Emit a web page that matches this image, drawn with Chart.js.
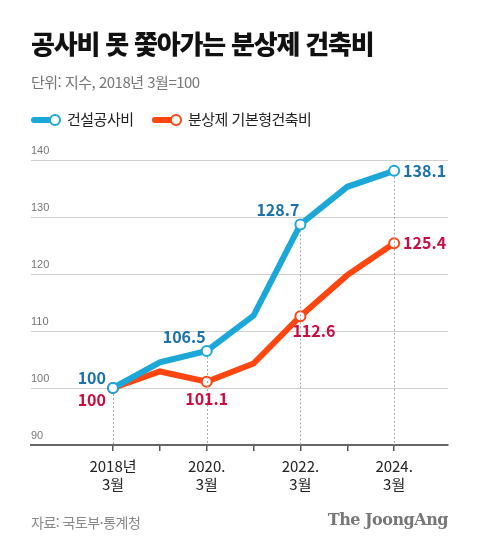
<!DOCTYPE html>
<html lang="ko">
<head>
<meta charset="utf-8">
<script src="https://cdn.jsdelivr.net/npm/chart.js@4"></script>
<style>
  html, body { margin: 0; padding: 0; background: #fff; }
  body { width: 480px; height: 553px; position: relative; overflow: hidden;
         font-family: "Noto Sans CJK KR", "Noto Sans", sans-serif; }
  #wrap { position: absolute; left: 0; top: 0; width: 480px; height: 553px; }
  .title { position: absolute; left: 31px; top: 24px; font-size: 26px; font-weight: 900;
           color: #111; letter-spacing: -1.2px; }
  .sub { position: absolute; left: 31px; top: 71px; font-size: 15px; color: #777; letter-spacing: -0.5px; }
  .legend { position: absolute; top: 108px; font-size: 15px; color: #222; letter-spacing: -0.5px; }
  .legend .mk { display: inline-block; position: relative; width: 30px; height: 12px; vertical-align: -1px; margin-right: 6px; }
  .legend .mk i { position: absolute; left: 0; top: 3px; width: 24px; height: 6px; border-radius: 3px; }
  .legend .mk b { position: absolute; right: 0; top: 0; width: 8px; height: 8px; border-radius: 50%;
                  border: 2px solid; background: #fff; }
  .src { position: absolute; left: 31px; top: 512px; font-size: 14px; color: #888; letter-spacing: -0.5px; }
  .logo { position: absolute; right: 32px; top: 510px; font-family: "DejaVu Serif", "Liberation Serif", serif;
          font-weight: 700; font-size: 16px; color: #777; letter-spacing: -0.5px; }
</style>
</head>
<body>
<div id="wrap"><canvas id="myChart" width="480" height="553"></canvas></div>
<div class="title">공사비 못 쫓아가는 분상제 건축비</div>
<div class="sub">단위: 지수, 2018년 3월=100</div>
<div class="legend" style="left:31px"><span class="mk"><i style="background:#1ba8d9"></i><b style="border-color:#1ba8d9"></b></span>건설공사비</div>
<div class="legend" style="left:152px"><span class="mk"><i style="background:#ff4510"></i><b style="border-color:#ff4510"></b></span>분상제 기본형건축비</div>
<div class="src">자료: 국토부·통계청</div>
<div class="logo">The JoongAng</div>
<script>
window.onload = function () {

    // data
    const years = [2018, 2019, 2020, 2021, 2022, 2023, 2024];
    const tickLabels = {
        2018: ['2018년', '3월'],
        2020: ['2020.', '3월'],
        2022: ['2022.', '3월'],
        2024: ['2024.', '3월']
    };
    const construction = [100, 104.5, 106.5, 112.7, 128.7, 135.3, 138.1];
    const buildCost = [100, 102.9, 101.1, 104.3, 112.6, 119.8, 125.4];
    const yTicks = [90, 100, 110, 120, 130, 140];

    const BLUE = '#1ba8d9', RED = '#ff4510';
    const BLUE_TXT = '#1a72aa', RED_TXT = '#cc0c3e';

    // which points get a marker + value label, and where the label goes
    const blueLabels = { 0: 'above', 2: 'aboveLeft', 4: 'aboveLeft', 6: 'right' };
    const redLabels = { 0: 'below', 2: 'below', 4: 'belowRight', 6: 'right' };

    function toPoints(arr) {
        return years.map(function (y, i) { return { x: y, y: arr[i] }; });
    }
    function radii(marks) {
        return years.map(function (y, i) { return marks[i] ? 5 : 0; });
    }

    const valueLabels = {
        id: 'valueLabels',
        afterDatasetsDraw: function (chart) {
            const ctx = chart.ctx;
            const xs = chart.scales.x, ys = chart.scales.y;
            // dashed guides
            ctx.save();
            ctx.setLineDash([2, 2]);
            ctx.strokeStyle = '#aaa';
            ctx.lineWidth = 1;
            Object.keys(tickLabels).forEach(function (k) {
                const i = years.indexOf(+k);
                const px = Math.round(xs.getPixelForValue(+k)) + 0.5;
                const top = ys.getPixelForValue(Math.max(construction[i], buildCost[i])) + 6;
                ctx.beginPath();
                ctx.moveTo(px, top);
                ctx.lineTo(px, chart.chartArea.bottom);
                ctx.stroke();
            });
            ctx.restore();

            ctx.save();
            ctx.font = 'bold 16px "Noto Sans CJK KR", "Noto Sans", sans-serif';
            ctx.textBaseline = 'middle';
            [[construction, blueLabels, BLUE_TXT], [buildCost, redLabels, RED_TXT]].forEach(function (s) {
                const vals = s[0], marks = s[1];
                ctx.fillStyle = s[2];
                Object.keys(marks).forEach(function (k) {
                    const i = +k;
                    const px = xs.getPixelForValue(years[i]);
                    const py = ys.getPixelForValue(vals[i]);
                    const txt = String(vals[i]);
                    const pos = marks[k];
                    if (pos === 'right') { ctx.textAlign = 'left'; ctx.fillText(txt, px + 9, py); }
                    else if (pos === 'above') { ctx.textAlign = 'right'; ctx.fillText(txt, px - 7, py - 10); }
                    else if (pos === 'aboveLeft') { ctx.textAlign = 'right'; ctx.fillText(txt, px - 1, py - 14); }
                    else if (pos === 'below' && i === 0) { ctx.textAlign = 'right'; ctx.fillText(txt, px - 7, py + 12); }
                    else if (pos === 'below') { ctx.textAlign = 'center'; ctx.fillText(txt, px, py + 17); }
                    else if (pos === 'belowRight') { ctx.textAlign = 'left'; ctx.fillText(txt, px - 8, py + 15); }
                });
            });
            ctx.restore();
        }
    };

    const config = {
        type: 'line',
        data: {
            datasets: [{
                label: '건설공사비',
                data: toPoints(construction),
                borderColor: BLUE,
                backgroundColor: '#fff',
                borderWidth: 6,
                pointRadius: radii(blueLabels),
                pointBorderWidth: 2,
                pointBorderColor: BLUE,
                pointBackgroundColor: '#fff',
                tension: 0,
                clip: false
            }, {
                label: '분상제 기본형건축비',
                data: toPoints(buildCost),
                borderColor: RED,
                backgroundColor: '#fff',
                borderWidth: 6,
                pointRadius: radii(redLabels),
                pointBorderWidth: 2,
                pointBorderColor: RED,
                pointBackgroundColor: '#fff',
                tension: 0,
                clip: false
            }]
        },
        options: {
            responsive: false,
            animation: false,
            events: [],
            layout: { padding: { left: 31, right: 32, top: 160, bottom: 48 } },
            plugins: { legend: { display: false }, tooltip: { enabled: false } },
            scales: {
                x: {
                    type: 'linear',
                    min: 2016.25,
                    max: 2025.15,
                    afterBuildTicks: function (scale) {
                        scale.ticks = years.map(function (y) { return { value: y }; });
                    },
                    afterFit: function (scale) { scale.height = 60; },
                    ticks: {
                        autoSkip: false,
                        maxRotation: 0,
                        padding: 6,
                        color: '#222',
                        font: { size: 15, family: '"Noto Sans CJK KR", "Noto Sans", sans-serif', lineHeight: 1.2 },
                        callback: function (v) { return tickLabels[v] || ''; }
                    },
                    grid: { drawOnChartArea: false, drawTicks: true, tickLength: 6, color: '#555', lineWidth: 1.5 },
                    border: { display: true, color: '#666', width: 2 }
                },
                y: {
                    min: 90,
                    max: 140,
                    afterBuildTicks: function (scale) {
                        scale.ticks = yTicks.map(function (v) { return { value: v }; });
                    },
                    afterFit: function (scale) { scale.width = 0; },
                    ticks: {
                        mirror: true,
                        padding: 0,
                        labelOffset: -9,
                        color: '#777',
                        font: { size: 11, family: '"Liberation Sans", Arial, sans-serif' }
                    },
                    grid: {
                        drawTicks: false,
                        color: function (c) { return c.tick && c.tick.value === 90 ? 'rgba(0,0,0,0)' : '#d0d0d0'; },
                        lineWidth: 1
                    },
                    border: { display: false }
                }
            }
        },
        plugins: [valueLabels]
    };

    new Chart(document.getElementById('myChart'), config);
};
</script>
</body>
</html>
